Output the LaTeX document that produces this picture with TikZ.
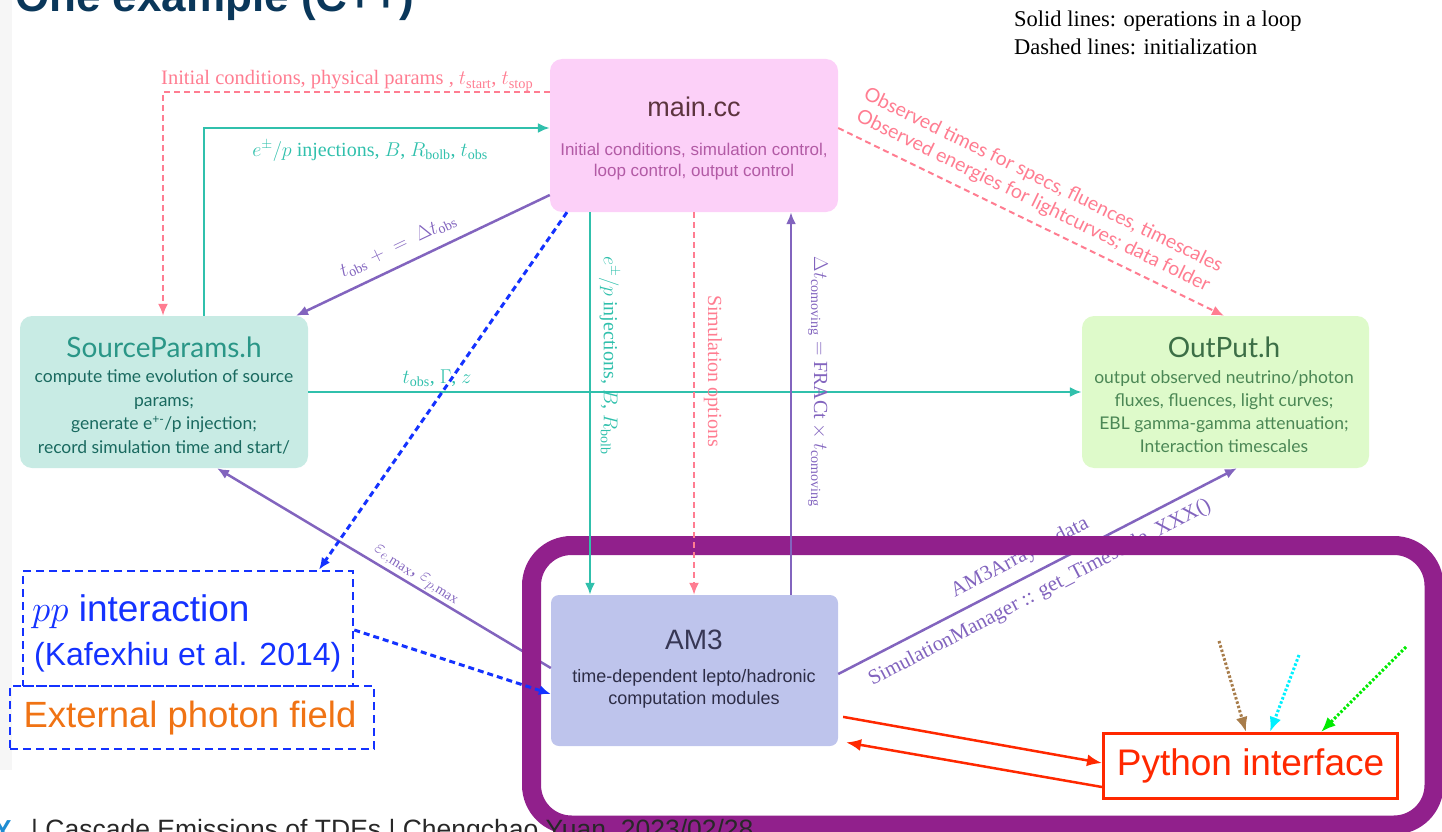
\documentclass[tikz,border=0pt]{standalone}
\usepackage{fix-cm}
\usepackage{fontspec}
\setmainfont{Liberation Serif}
\newfontfamily\hel{Liberation Sans}
\newfontfamily\ave{Lato}
\usetikzlibrary{arrows.meta}
\newcommand\fsz[2]{\fontsize{#1}{#2}\selectfont}
\newcommand\rmm[1]{\mathrm{#1}}
\definecolor{mainfill}{RGB}{252,208,248}
\definecolor{maintitle}{RGB}{92,52,62}
\definecolor{mainsub}{RGB}{178,90,165}
\definecolor{srcfill}{RGB}{200,235,228}
\definecolor{srctitle}{RGB}{42,150,135}
\definecolor{srctext}{RGB}{25,105,95}
\definecolor{outfill}{RGB}{222,250,202}
\definecolor{outtitle}{RGB}{60,110,70}
\definecolor{outtext}{RGB}{75,135,85}
\definecolor{amfill}{RGB}{190,196,236}
\definecolor{amtitle}{RGB}{55,55,85}
\definecolor{amtext}{RGB}{45,45,70}
\definecolor{tealc}{RGB}{48,192,172}
\definecolor{pinkc}{RGB}{255,125,145}
\definecolor{purpc}{RGB}{130,100,190}
\definecolor{bluec}{RGB}{20,50,255}
\definecolor{pyred}{RGB}{255,40,0}
\definecolor{extorange}{RGB}{240,115,20}
\definecolor{framec}{RGB}{145,32,140}
\definecolor{brownc}{RGB}{168,125,75}
\definecolor{cyanc}{RGB}{0,240,255}
\definecolor{greenc}{RGB}{0,235,0}
\definecolor{titleblue}{RGB}{10,55,90}
\definecolor{footgray}{RGB}{40,40,40}
\definecolor{footblue}{RGB}{30,140,210}
\definecolor{stripgray}{RGB}{246,246,246}
\begin{document}
\begin{tikzpicture}[x=1pt,y=-1pt,
  box/.style={rectangle, rounded corners=12pt, inner sep=0pt, draw=none},
  conn/.style={line width=2.5pt},
  arr/.style={-{Latex[length=12pt,width=10pt]}},
  bigarr/.style={-{Latex[length=15pt,width=12pt]}},
  pinkdash/.style={draw=pinkc, line width=2pt, dash pattern=on 6pt off 4pt},
  bluedot/.style={draw=bluec, line width=3pt, dash pattern=on 6pt off 4pt},
  bluebox/.style={rectangle, draw=bluec, line width=2.5pt, dash pattern=on 8pt off 5pt, inner sep=0pt},
  lbl/.style={font=\fsz{20}{24}, inner sep=0pt},
  txt/.style={inner sep=0pt, align=center}]
\useasboundingbox (0,0) rectangle (1442,832);
\fill[stripgray] (0,0) rectangle (12,770);
\node[font=\hel\bfseries\fsz{44}{50}, text=titleblue, anchor=base west, inner sep=0pt] (title) at (15,12) {One example (C++)};
% legend
\node[font=\fsz{22.5}{26}, anchor=base west, inner sep=0pt] (leg1) at (1014,27) {Solid lines: operations in a loop};
\node[font=\fsz{22.5}{26}, anchor=base west, inner sep=0pt] (leg2) at (1014,55) {Dashed lines: initialization};
% boxes
\node[box, fill=mainfill, minimum width=288pt, minimum height=153pt] (main) at (694,135.5) {};
\node[txt, font=\hel\fsz{27}{32}, text=maintitle] (maint) at (694,107) {main.cc};
\node[txt, font=\hel\fsz{17}{21}, text=mainsub] (mains) at (694,162) {Initial conditions, simulation control,\\loop control, output control};
\node[box, fill=srcfill, minimum width=288pt, minimum height=152pt] (src) at (164,392) {};
\node[txt, font=\ave\fsz{28}{32}, text=srctitle] (srct) at (164,347) {SourceParams.h};
\node[txt, font=\ave\fsz{17.5}{23.5}, text=srctext] (srcb) at (164,412) {compute time evolution of source\\params;\\generate e\textsuperscript{+-}/p injection;\\record simulation time and start/};
\node[box, fill=outfill, minimum width=287pt, minimum height=152pt] (out) at (1225.5,392) {};
\node[txt, font=\ave\fsz{28}{32}, text=outtitle] (outt) at (1224,347) {OutPut.h};
\node[txt, font=\ave\fsz{17.5}{23}, text=outtext] (outb) at (1224,412) {output observed neutrino/photon\\fluxes, fluences, light curves;\\EBL gamma-gamma attenuation;\\Interaction timescales};
\node[box, rounded corners=8pt, fill=amfill, minimum width=287pt, minimum height=151pt] (am3) at (694.5,670.5) {};
\node[txt, font=\hel\fsz{28}{32}, text=amtitle] (amt) at (694,640) {AM3};
\node[txt, font=\hel\fsz{18}{22}, text=amtext] (amb) at (694,689) {time-dependent lepto/hadronic\\computation modules};
% connectors hidden by the frame
\draw[conn, draw=purpc, arr] (am3.west |- 0,668) -- (src.south -| 217,0);
\node[lbl, font=\fsz{20}{22}, text=purpc, rotate=-32] (lE) at (416,575) {$\varepsilon_{e,\rmm{max}}$, $\varepsilon_{p,\rmm{max}}$};
\draw[conn, draw=purpc, arr] (am3.east |- 0,674) -- (out.south -| 1237,0);
\node[lbl, font=\fsz{21}{24}, text=purpc, rotate=27.5] (lA) at (1020,558) {AM3Array :: data};
\node[lbl, font=\fsz{21}{24}, text=purpc, rotate=27.5] (lS) at (1040,593) {SimulationManager :: get\_Timescale\_XXX()};
% frame
\draw[line width=19pt, draw=framec, rounded corners=40pt] (531.5,545.5) rectangle (1434,825);
% external boxes
\node[bluebox, minimum width=364pt, minimum height=63pt] (ext) at (192,717.5) {};
\node[txt, font=\hel\fsz{36.5}{40}, text=extorange] (extt) at (190,718) {External photon field};
\node[bluebox, minimum width=330pt, minimum height=115pt] (pp) at (188,628.5) {};
\node[font=\hel\fsz{37}{40}, text=bluec, anchor=west, inner sep=0pt] (ppt) at (32,612) {$pp$ interaction};
\node[font=\hel\fsz{32}{34}, text=bluec, anchor=west, inner sep=0pt] (ppk) at (34,657) {(Kafexhiu et al. 2014)};
% python
\node[draw=pyred, line width=3pt, fill=white, minimum width=294pt, minimum height=65pt, inner sep=0pt, font=\hel\fsz{37}{40}, text=pyred] (py) at (1250.5,766) {Python interface};
% connectors
\draw[pinkdash, arr] (main.west |- 0,92) -- (163,92) -- (src.north -| 163,0);
\node[lbl, font=\fsz{20.5}{24}, text=pinkc, anchor=base west] (l1) at (161,85) {Initial conditions, physical params , $t_{\rmm{start}}$, $t_{\rmm{stop}}$};
\draw[conn, draw=tealc, arr] (src.north -| 204,0) -- (204,128) -- (main.west |- 0,128);
\node[lbl, text=tealc] (l2) at (370,151) {$e^{\pm}/p$ injections, $B$, $R_{\rmm{bolb}}$, $t_{\rmm{obs}}$};
\draw[conn, draw=purpc, arr] (main.west |- 0,195) -- (src.north -| 296,0);
\node[lbl, text=purpc, rotate=25.5] (l3) at (398,246) {$t_{\rmm{obs}}\;+\;=\;\Delta t_{\rmm{obs}}$};
\draw[conn, draw=tealc, arr] (src.east |- 0,392) -- (out.west |- 0,392);
\node[lbl, text=tealc] (l4) at (437,378) {$t_{\rmm{obs}}$, $\Gamma$, $z$};
\draw[conn, draw=tealc, arr] (main.south -| 590,0) -- (am3.north -| 590,0);
\node[lbl, text=tealc, rotate=-90] (l5) at (609,356) {$e^{\pm}/p$ injections, $B$, $R_{\rmm{bolb}}$};
\draw[pinkdash, arr] (main.south -| 694,0) -- (am3.north -| 694,0);
\node[lbl, text=pinkc, rotate=-90] (l6) at (713,371) {Simulation options};
\draw[conn, draw=purpc, arr] (am3.north -| 791,0) -- (main.south -| 791,0);
\node[lbl, text=purpc, rotate=-90] (l7) at (818,382) {$\Delta t_{\rmm{comoving}} = \rmm{FRACt}\times t_{\rmm{comoving}}$};
\draw[pinkdash, arr] (main.east |- 0,128) -- (out.north -| 1224,0);
\node[txt, font=\ave\fsz{19.5}{23}, text=pinkc, rotate=-26] (l8) at (1038,191) {Observed times for specs, fluences, timescales\\Observed energies for lightcurves; data folder};
\draw[bluedot, arr] (main.south -| 567,0) -- (pp.north -| 319,0);
\draw[bluedot, arr] (pp.east |- 0,630) -- (am3.west |- 0,694);
% python arrows
\draw[line width=2.5pt, draw=pyred, bigarr, shorten <=5pt] (am3.east |- 0,716) -- (py.west |- 0,763);
\draw[line width=2.5pt, draw=pyred, bigarr, shorten >=8pt] (py.west |- 0,787) -- (am3.east |- 0,741);
\coordinate (bs) at (1219,641);
\coordinate (cs) at (1299,655);
\coordinate (gs) at (1406,647);
\draw[draw=brownc, line width=3pt, dash pattern=on 2.5pt off 2pt, bigarr] (bs) -- (py.north -| 1246,0);
\draw[draw=cyanc, line width=3pt, dash pattern=on 2.5pt off 2pt, bigarr] (cs) -- (py.north -| 1270,0);
\draw[draw=greenc, line width=3pt, dash pattern=on 2.5pt off 2pt, bigarr] (gs) -- (py.north -| 1321,0);
% footer
\node[font=\hel\bfseries\fsz{26}{30}, text=footblue, anchor=base west, inner sep=0pt] (ylogo) at (-6,838) {Y};
\node[font=\hel\fsz{26.5}{30}, text=footgray, anchor=base west, inner sep=0pt] (foot) at (31,838) {| Cascade Emissions of TDEs | Chengchao Yuan, 2023/02/28};
\end{tikzpicture}
\end{document}
